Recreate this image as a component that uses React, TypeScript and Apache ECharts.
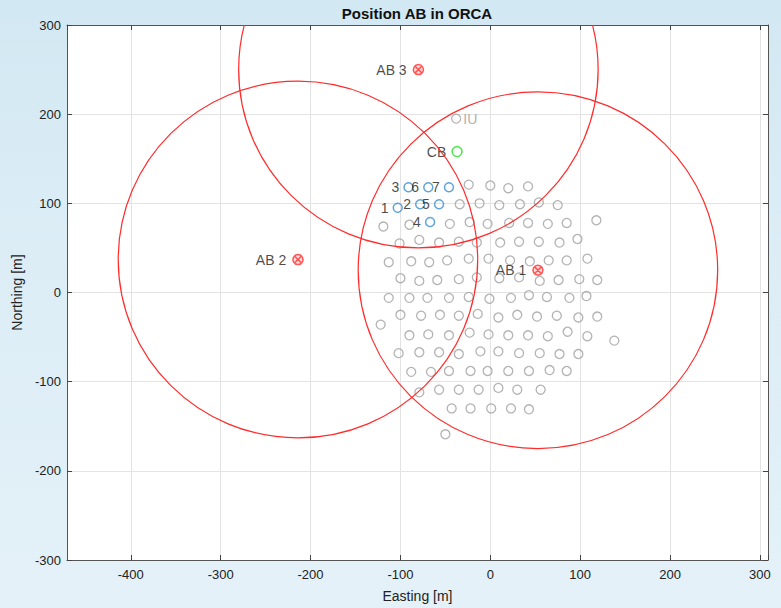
import React, { useEffect, useRef } from "react";
import * as echarts from "echarts";

const X_MIN = -471;
const X_MAX = 309;
const Y_MIN = -300;
const Y_MAX = 300;

const titleText = "Position AB in ORCA";
const xName = "Easting [m]";
const yName = "Northing [m]";

const buoyNames = ["AB 1", "AB 2", "AB 3"];
const buoyPos = [
  [53, 25],
  [-214, 37],
  [-80, 250],
];
const rangeRadius = [200, 200, 200];

const duNumbers = ["1", "2", "3", "4", "5", "6", "7"];
const duPos = [
  [-103, 95],
  [-78, 99],
  [-91, 118],
  [-67, 79],
  [-57, 99],
  [-69, 118],
  [-46, 118],
];

const cbPos = [-37, 158];
const iuPos = [-38, 195];

const grayDUs = [
  [-24, 121], [0, 120], [20, 117], [42, 119],
  [-34, 99], [-12, 100], [10, 98], [33, 99], [54, 101], [75, 98],
  [-119, 74], [-90, 76], [-45, 77], [-23, 79], [-3, 77], [21, 78], [42, 78], [64, 77], [85, 78], [118, 81],
  [-101, 55], [-79, 59], [-57, 56], [-35, 57], [-15, 56], [11, 56], [32, 57], [54, 57], [77, 56], [97, 60],
  [-113, 34], [-88, 35], [-68, 34], [-48, 36], [-24, 38], [-2, 38], [22, 36], [44, 35], [65, 36], [85, 36], [108, 38],
  [-100, 16], [-79, 13], [-59, 14], [-35, 15], [-15, 17], [10, 16], [32, 17], [55, 13], [76, 14], [99, 15], [119, 14],
  [-113, -6], [-90, -6], [-70, -6], [-46, -6], [-24, -5], [-1, -7], [23, -6], [43, -3], [63, -5], [88, -6], [107, -4],
  [-122, -36], [-100, -25], [-77, -26], [-56, -25], [-35, -26], [-14, -24], [9, -28], [30, -25], [52, -27], [74, -26], [98, -28], [119, -27],
  [-90, -48], [-69, -47], [-46, -48], [-23, -45], [-2, -47], [20, -48], [42, -48], [64, -49], [86, -44], [108, -49], [138, -54],
  [-102, -68], [-79, -67], [-57, -67], [-35, -69], [-11, -66], [9, -66], [32, -68], [55, -68], [77, -69], [98, -69],
  [-88, -89], [-66, -89], [-46, -88], [-22, -88], [-3, -88], [20, -88], [43, -88], [66, -87], [85, -88],
  [-79, -112], [-57, -109], [-35, -109], [-13, -109], [9, -107], [30, -109], [56, -109],
  [-43, -130], [-22, -130], [1, -130], [23, -130], [43, -131],
  [-50, -159],
];

const FONT = "'Liberation Sans', Arial, sans-serif";
const AB_SYMBOL = "path://M10,1A9,9,0,1,1,9.99,1Z M4.5,4.5L15.5,15.5 M15.5,4.5L4.5,15.5";

export default function App() {
  const ref = useRef<HTMLDivElement>(null);

  useEffect(() => {
    if (!ref.current) return;
    const chart = echarts.init(ref.current, null, { renderer: "svg" });

    const axisLineStyle = { color: "#555", width: 1 };
    const tickLabelStyle = { color: "#222", fontSize: 13, fontFamily: FONT };
    const hideTenth = (v: number) => (Math.round(v) % 100 === 0 ? String(Math.round(v)) : "");

    const option: any = {
      animation: false,
      backgroundColor: "transparent",
      graphic: [
        {
          type: "text",
          x: 417,
          y: 13,
          style: {
            text: titleText,
            align: "center",
            verticalAlign: "middle",
            fontSize: 15,
            fontWeight: "bold",
            fontFamily: FONT,
            fill: "#111",
          },
        },
      ],
      grid: {
        left: 67,
        right: 13,
        top: 25,
        bottom: 43,
        show: true,
        backgroundColor: "#ffffff",
        borderWidth: 0,
      },
      xAxis: [
        {
          type: "value",
          min: X_MIN,
          max: X_MAX,
          minInterval: 100,
          maxInterval: 100,
          position: "bottom",
          name: xName,
          nameLocation: "middle",
          nameGap: 29,
          nameTextStyle: { color: "#222", fontSize: 14, fontFamily: FONT },
          axisLine: { show: true, onZero: false, lineStyle: axisLineStyle },
          axisTick: { show: true, inside: true, length: 5, lineStyle: { color: "#444" } },
          axisLabel: { ...tickLabelStyle, margin: 8, formatter: hideTenth, showMinLabel: false, showMaxLabel: true },
          splitLine: { show: true, lineStyle: { color: "#e3e3e3", width: 1 } },
        },
        {
          type: "value",
          min: X_MIN,
          max: X_MAX,
          minInterval: 100,
          maxInterval: 100,
          position: "top",
          axisLine: { show: true, onZero: false, lineStyle: axisLineStyle },
          axisTick: { show: true, inside: true, length: 5, lineStyle: { color: "#444" } },
          axisLabel: { show: false },
          splitLine: { show: false },
        },
      ],
      yAxis: [
        {
          type: "value",
          min: Y_MIN,
          max: Y_MAX,
          interval: 100,
          position: "left",
          name: yName,
          nameLocation: "middle",
          nameGap: 40,
          nameTextStyle: { color: "#222", fontSize: 14, fontFamily: FONT },
          axisLine: { show: true, onZero: false, lineStyle: axisLineStyle },
          axisTick: { show: true, inside: true, length: 5, lineStyle: { color: "#444" } },
          axisLabel: { ...tickLabelStyle, margin: 6 },
          splitLine: { show: true, lineStyle: { color: "#e3e3e3", width: 1 } },
        },
        {
          type: "value",
          min: Y_MIN,
          max: Y_MAX,
          interval: 100,
          position: "right",
          axisLine: { show: true, onZero: false, lineStyle: axisLineStyle },
          axisTick: { show: true, inside: true, length: 5, lineStyle: { color: "#444" } },
          axisLabel: { show: false },
          splitLine: { show: false },
        },
      ],
      series: [
        {
          type: "scatter",
          name: "DU",
          data: grayDUs,
          symbol: "circle",
          symbolSize: 9,
          itemStyle: { color: "rgba(0,0,0,0)", borderColor: "#a0a0a0", borderWidth: 1.3 },
          silent: true,
        },
        {
          type: "scatter",
          name: "DU numbered",
          data: duPos.map((p, i) => ({ value: p, name: duNumbers[i] })),
          symbol: "circle",
          symbolSize: 9,
          itemStyle: { color: "rgba(0,0,0,0)", borderColor: "#3a8cd2", borderWidth: 1.5 },
          label: {
            show: true,
            position: "left",
            distance: 4,
            formatter: (p: any) => p.name,
            color: "#1a1a1a",
            fontSize: 14,
            fontFamily: FONT,
          },
          silent: true,
        },
        {
          type: "scatter",
          name: "CB",
          data: [{ value: cbPos, name: "CB" }],
          symbol: "circle",
          symbolSize: 10,
          itemStyle: { color: "rgba(0,0,0,0)", borderColor: "#22dd22", borderWidth: 1.5 },
          label: {
            show: true,
            position: "left",
            distance: 5,
            formatter: (p: any) => p.name,
            color: "#1a1a1a",
            fontSize: 14,
            fontFamily: FONT,
          },
          silent: true,
        },
        {
          type: "scatter",
          name: "IU",
          data: [{ value: iuPos, name: "IU" }],
          symbol: "circle",
          symbolSize: 9,
          itemStyle: { color: "rgba(0,0,0,0)", borderColor: "#a0a0a0", borderWidth: 1.3 },
          label: {
            show: true,
            position: "right",
            distance: 2,
            formatter: (p: any) => p.name,
            color: "#999",
            fontSize: 14,
            fontFamily: FONT,
          },
          silent: true,
        },
        {
          type: "custom",
          name: "Range",
          clip: true,
          encode: { x: 0, y: 1 },
          data: buoyPos.map((p, i) => [p[0], p[1], rangeRadius[i]]),
          renderItem: (params: any, api: any) => {
            const c = api.coord([api.value(0), api.value(1)]);
            const s = api.size([api.value(2), api.value(2)]);
            return {
              type: "ellipse",
              shape: { cx: c[0], cy: c[1], rx: s[0], ry: s[1] },
              style: { fill: "none", stroke: "#ff2b2b", lineWidth: 1.2 },
            };
          },
          silent: true,
          z: 3,
        },
        {
          type: "scatter",
          name: "AB",
          data: buoyPos.map((p, i) => ({ value: p, name: buoyNames[i] })),
          symbol: AB_SYMBOL,
          symbolSize: 10,
          itemStyle: { color: "rgba(255,80,80,0.25)", borderColor: "#ff3030", borderWidth: 1.5 },
          label: {
            show: true,
            position: "left",
            distance: 6,
            formatter: (p: any) => p.name,
            color: "#1a1a1a",
            fontSize: 14,
            fontFamily: FONT,
          },
          silent: true,
          z: 4,
        },
      ],
    };

    chart.setOption(option);
    return () => chart.dispose();
  }, []);

  return (
    <div
      style={{
        position: "fixed",
        left: 0,
        top: 0,
        width: 781,
        height: 608,
        background: "linear-gradient(180deg, #d2e8f2 0%, #dcedf6 40%, #e4f1f8 100%)",
      }}
    >
      <div ref={ref} style={{ width: 781, height: 608 }} />
    </div>
  );
}
